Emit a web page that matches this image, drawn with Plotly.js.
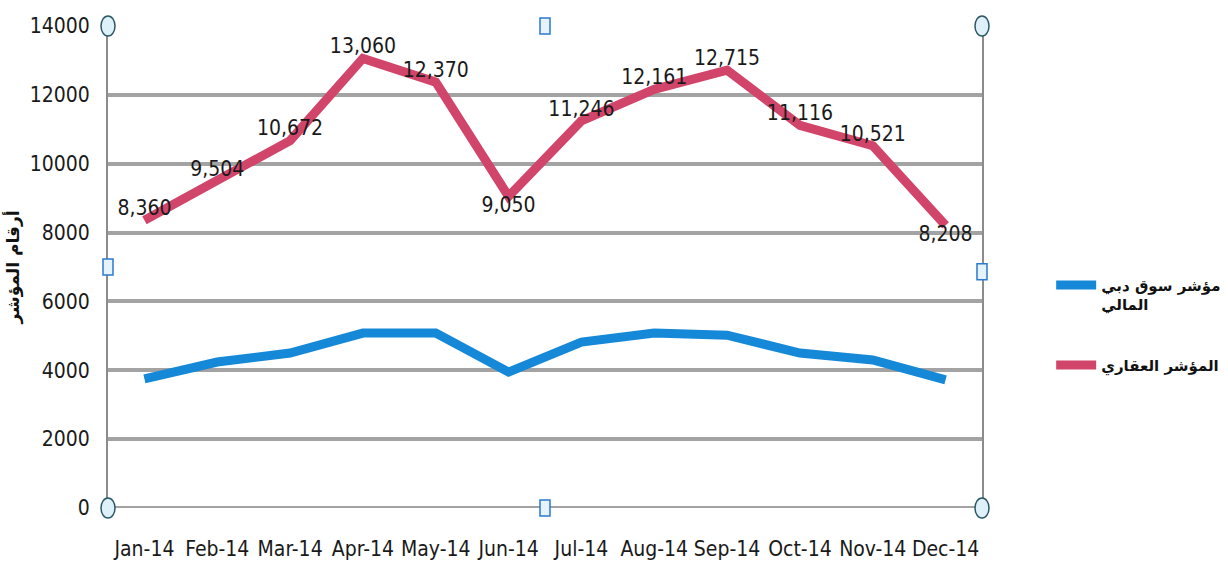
<!DOCTYPE html>
<html>
<head>
<meta charset="utf-8">
<script src="https://cdn.plot.ly/plotly-3.0.1.min.js"></script>
<style>html,body{margin:0;padding:0;background:#fff;}#chart{width:1228px;height:578px;}</style>
</head>
<body>
<div id="chart"></div>
<script>
const months = ['Jan-14','Feb-14','Mar-14','Apr-14','May-14','Jun-14','Jul-14','Aug-14','Sep-14','Oct-14','Nov-14','Dec-14'];
const dfmIndex = [3750, 4240, 4500, 5080, 5080, 3950, 4820, 5080, 5020, 4500, 4300, 3720];
const realEstateIndex = [8360, 9504, 10672, 13060, 12370, 9050, 11246, 12161, 12715, 11116, 10521, 8208];
const dfmName = 'مؤشر سوق دبي<br>المالي';
const realEstateName = 'المؤشر العقاري';
const yTitle = 'أرقام المؤشر';
const yTicks = [0, 2000, 4000, 6000, 8000, 10000, 12000, 14000];

const labelPos = realEstateIndex.map((v, i) => (i === 5 || i === 11) ? 'bottom center' : 'top center');

const numFont = {family: '"DejaVu Sans Condensed", Roboto, sans-serif', size: 21, color: '#1a1a1a'};

const traces = [
  {
    x: months, y: dfmIndex, name: dfmName, type: 'scatter', mode: 'lines', legendgroup: 'dfm',
    line: {color: '#1688d8', width: 9}
  },
  {
    x: months, y: realEstateIndex, name: realEstateName, type: 'scatter', mode: 'lines+text', legendgroup: 're',
    line: {color: '#d2456a', width: 9},
    text: realEstateIndex.map(v => v.toLocaleString('en-US')),
    textposition: labelPos,
    textfont: numFont,
    cliponaxis: false
  }
];

function handleCircle(ax, ay) {
  return {type: 'circle', xref: 'paper', yref: 'paper', xsizemode: 'pixel', ysizemode: 'pixel',
    xanchor: ax, yanchor: ay, x0: -7, x1: 7, y0: -10, y1: 10,
    line: {color: '#2c5866', width: 1.5}, fillcolor: '#dff1f8', layer: 'above'};
}
function handleSquare(ax, ay) {
  return {type: 'rect', xref: 'paper', yref: 'paper', xsizemode: 'pixel', ysizemode: 'pixel',
    xanchor: ax, yanchor: ay, x0: -5, x1: 5, y0: -8, y1: 8,
    line: {color: '#2a7ad0', width: 1.5}, fillcolor: '#e6f3fb', layer: 'above'};
}

const layout = {
  width: 1228, height: 578,
  margin: {l: 108, r: 246, t: 26, b: 70, autoexpand: false},
  paper_bgcolor: '#ffffff', plot_bgcolor: '#ffffff',
  showlegend: true,
  legend: {
    x: 0.856, xanchor: 'left', xref: 'container', y: 0.535, yanchor: 'top', yref: 'container',
    font: {family: '"DejaVu Sans", sans-serif', size: 15, color: '#111', weight: 'bold'},
    valign: 'top',
    itemwidth: 40, tracegroupgap: 38, bgcolor: 'rgba(0,0,0,0)'
  },
  xaxis: {
    type: 'category', range: [-0.5, 11.5], showgrid: false, zeroline: false, showline: false,
    ticks: 'outside', ticklen: 22, tickcolor: 'rgba(0,0,0,0)', tickangle: 0,
    tickfont: numFont, fixedrange: true
  },
  yaxis: {
    range: [0, 14000], tickvals: yTicks, ticktext: yTicks.map(String),
    showgrid: true, gridcolor: '#a3a3a3', gridwidth: 4,
    zeroline: false, showline: true, mirror: true, linecolor: '#8c8c8c', linewidth: 2,
    ticks: 'outside', ticklen: 12, tickcolor: 'rgba(0,0,0,0)',
    tickfont: numFont,
    title: {text: '<b>' + yTitle + '</b>', font: {family: '"DejaVu Sans", sans-serif', size: 17, color: '#111'}, standoff: 6},
    fixedrange: true
  },
  shapes: [
    {type: 'line', xref: 'paper', yref: 'y', x0: 0, x1: 1, y0: 0, y1: 0, line: {color: '#a3a3a3', width: 4}, layer: 'below'},
    handleCircle(0, 1), handleCircle(1, 1), handleCircle(0, 0), handleCircle(1, 0),
    handleSquare(0.5, 1), handleSquare(0, 0.5), handleSquare(1, 0.49), handleSquare(0.5, 0)
  ]
};

Plotly.newPlot('chart', traces, layout, {displayModeBar: false, staticPlot: true});
</script>
</body>
</html>
